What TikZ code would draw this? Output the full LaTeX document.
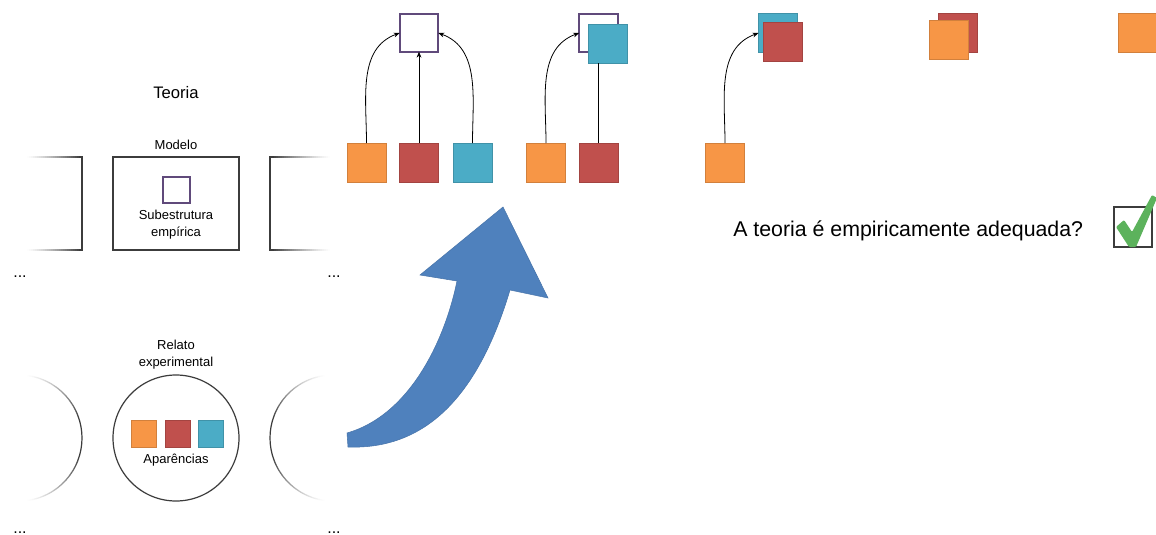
\documentclass[tikz,border=0pt]{standalone}
\usepackage{fontspec}
\setmainfont{Liberation Sans}
\usetikzlibrary{arrows.meta}
\definecolor{cOr}{RGB}{247,150,70}
\definecolor{cRd}{RGB}{192,80,77}
\definecolor{cTl}{RGB}{75,172,198}
\definecolor{cPu}{RGB}{96,74,123}
\definecolor{cBl}{RGB}{79,129,189}
\definecolor{cGr}{RGB}{92,178,92}
\definecolor{cLn}{RGB}{60,60,60}
\begin{document}
\begin{tikzpicture}[x=0.75pt,y=-0.75pt,
  sq/.style={minimum width=29.25pt,minimum height=29.25pt,inner sep=0pt,outer sep=0pt,line width=0.5pt},
  sqo/.style={sq,fill=cOr,draw=cOr!85!black},
  sqr/.style={sq,fill=cRd,draw=cRd!85!black},
  sqt/.style={sq,fill=cTl,draw=cTl!85!black},
  psq/.style={draw=cPu,line width=1.6pt,fill=white,minimum width=29pt,minimum height=28pt,inner sep=0pt,outer sep=0pt},
  ssq/.style={minimum width=18.75pt,minimum height=20.25pt,inner sep=0pt,outer sep=0pt,line width=0.5pt},
  conn/.style={line width=0.6pt,-{Stealth[length=4.5pt,width=3.6pt]}},
  lbl/.style={font=\fontsize{9.75}{12.75}\selectfont,align=center,inner sep=0pt},
  dots/.style={font=\fontsize{12}{14}\selectfont,inner sep=0pt,anchor=base},
  frame/.style={draw=cLn,line width=0.9pt}]
\useasboundingbox (0,0) rectangle (1156,535);
\fill[white] (0,0) rectangle (1156,535);

% ---- left column: theory ----
\node[font=\fontsize{12.5}{15}\selectfont,inner sep=0pt] (teoria) at (176,93) {Teoria};
\node[lbl] (modlbl) at (176,145) {Modelo};
\node[frame,minimum width=94.5pt,minimum height=69.75pt,inner sep=0pt] (model) at (176,203.5) {};
\node[draw=cPu,line width=2.2pt,minimum width=20.25pt,minimum height=19.5pt,inner sep=0pt] (emp) at (176.5,190) {};
\node[lbl] (sub) at (176,225) {Subestrutura\\empírica};

% partial boxes (fading lines)
\draw[frame] (80,157) -- (82,157) -- (82,250) -- (80,250);
\foreach \i in {0,...,27}{
  \pgfmathtruncatemacro\p{100*(\i/27)^1.3}
  \draw[cLn!\p!white,line width=0.9pt] ({25+2*\i},157) -- ({27.2+2*\i},157);
  \draw[cLn!\p!white,line width=0.9pt] ({25+2*\i},250) -- ({27.2+2*\i},250);
}
\draw[frame] (272,157) -- (270,157) -- (270,250) -- (272,250);
\foreach \i in {0,...,29}{
  \pgfmathtruncatemacro\p{100*(1-\i/29)^1.3}
  \draw[cLn!\p!white,line width=0.9pt] ({272+2*\i},157) -- ({274.2+2*\i},157);
  \draw[cLn!\p!white,line width=0.9pt] ({272+2*\i},250) -- ({274.2+2*\i},250);
}
\node[dots] (d1) at (20,277) {...};
\node[dots] (d2) at (334,277) {...};

% ---- left column: experimental report ----
\node[lbl] (rel) at (176,355) {Relato\\experimental};
\node[frame,circle,minimum size=94.5pt,inner sep=0pt] (circ) at (176,438) {};
\node[ssq,fill=cOr,draw=cOr!85!black] (a1) at (143.5,433.5) {};
\node[ssq,fill=cRd,draw=cRd!85!black] (a2) at (177.5,433.5) {};
\node[ssq,fill=cTl,draw=cTl!85!black] (a3) at (211,433.5) {};
\node[lbl] (apar) at (176,460) {Aparências};

% partial circles (fading arcs)
\draw[frame] (19,438) ++(-20:63) arc[start angle=-20,end angle=20,radius=63];
\foreach \i in {0,...,31}{
  \pgfmathtruncatemacro\p{100*(\i/31)^1.3}
  \draw[cLn!\p!white,line width=0.9pt] (19,438) ++({-84+2*\i}:63) arc[start angle={-84+2*\i},end angle={-81.8+2*\i},radius=63];
  \draw[cLn!\p!white,line width=0.9pt] (19,438) ++({84-2*\i}:63) arc[start angle={84-2*\i},end angle={81.8-2*\i},radius=63];
}
\draw[frame] (333,438) ++(160:63) arc[start angle=160,end angle=200,radius=63];
\foreach \i in {0,...,31}{
  \pgfmathtruncatemacro\p{100*(\i/31)^1.3}
  \draw[cLn!\p!white,line width=0.9pt] (333,438) ++({96+2*\i}:63) arc[start angle={96+2*\i},end angle={98.2+2*\i},radius=63];
  \draw[cLn!\p!white,line width=0.9pt] (333,438) ++({264-2*\i}:63) arc[start angle={264-2*\i},end angle={261.8-2*\i},radius=63];
}
\node[dots] (d3) at (20,533) {...};
\node[dots] (d4) at (334,533) {...};

% ---- big blue arrow ----
\filldraw[fill=cBl,draw=cBl!90!black,line width=0.4pt] (347,433) .. controls (410,415) and (445,340) .. (457,281)
  -- (420,275) -- (503,207) -- (548,298) -- (510,290)
  .. controls (480,390) and (430,450) .. (348,447) -- cycle;

% ---- group 1 ----
\node[psq] (p1) at (419,33) {};
\node[sqo] (o1) at (366.5,162.5) {};
\node[sqr] (r1) at (419,162.5) {};
\node[sqt] (t1) at (472.5,162.5) {};
\draw[conn] (o1.north) to[out=90,in=200] (p1.west);
\draw[conn] (r1.north) -- (p1.south);
\draw[conn] (t1.north) to[out=90,in=-20] (p1.east);

% ---- group 2 ----
\node[psq] (p2) at (598.5,33) {};
\node[sqt] (t2) at (608,43.5) {};
\node[sqo] (o2) at (546,162.5) {};
\node[sqr] (r2) at (598.5,162.5) {};
\draw[conn] (o2.north) to[out=90,in=200] (p2.west);
\draw[line width=0.6pt] (r2.north) -- (r2.north |- t2.south);

% ---- group 3 ----
\node[sqt] (t3) at (778,33) {};
\node[sqr] (r3) at (782.5,41.5) {};
\node[sqo] (o3) at (725,162.5) {};
\draw[conn] (o3.north) to[out=90,in=200] (t3.west);

% ---- group 4 ----
\node[sqr] (r4) at (958,32.5) {};
\node[sqo] (o4) at (948.5,39.5) {};

% ---- group 5 ----
\node[sqo] (o5) at (1137.5,32.5) {};

% ---- question ----
\node[font=\fontsize{16}{19}\selectfont,inner sep=0pt,anchor=base west] (q) at (733,236) {A teoria é empiricamente adequada?};
\node[draw=cLn,line width=0.8pt,minimum width=28.5pt,minimum height=30pt,inner sep=0pt] (chk) at (1133,227) {};
\fill[cGr,rounded corners=0.8pt] (1116,227) -- (1124,220) -- (1132,232) -- (1152,195) -- (1157,198) -- (1136,247) -- (1129,247) -- cycle;
\end{tikzpicture}
\end{document}
